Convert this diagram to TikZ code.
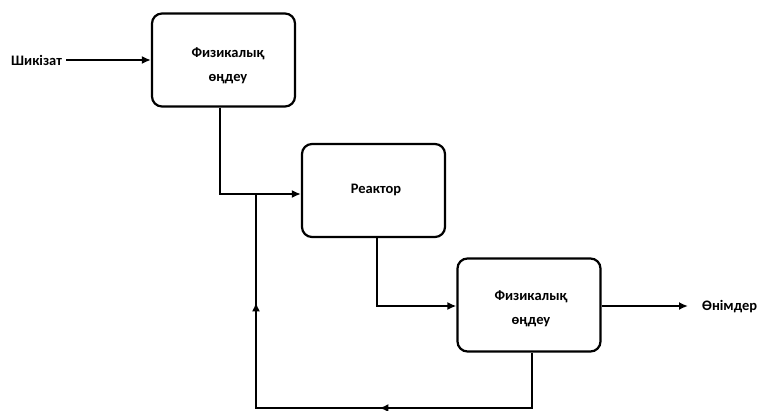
\documentclass[tikz,border=0pt]{standalone}
\usepackage{fontspec}
\setmainfont{Carlito}
\usetikzlibrary{arrows.meta,decorations.markings}
\begin{document}
\begin{tikzpicture}[x=1pt,y=-1pt,
  proc/.style={draw,line width=2.2pt,rounded corners=10pt,minimum width=143pt,minimum height=93pt,inner sep=0pt},
  ptxt/.style={align=center,font=\bfseries\fontsize{14.5}{24}\selectfont,inner sep=0pt},
  lbl/.style={font=\bfseries\fontsize{14.5}{16}\selectfont,inner sep=0pt},
  ln/.style={line width=2pt},
  arr/.style={ln,-{Latex[length=9pt,width=8pt]}},
  midarrows/.style={postaction={decorate},decoration={markings,
     mark=at position 208pt with {\arrow{Latex[length=9pt,width=8pt]}},
     mark=at position 437pt with {\arrow{Latex[length=9pt,width=8pt]}}}}]
\useasboundingbox (0,0) rectangle (760,410);
\node[proc] (b1) at (223.5,60) {};
\node[proc] (b2) at (373.5,190.5) {};
\node[proc] (b3) at (529,305) {};
\node[ptxt] (t1) at (228,66) {Физикалық\\өңдеу};
\node[ptxt] (t2) at (376,190) {Реактор};
\node[ptxt] (t3) at (531,309) {Физикалық\\өңдеу};
\node[lbl,anchor=west] (in) at (11,60) {Шикізат};
\node[lbl,anchor=west] (out) at (702,307) {Өнімдер};
\coordinate (c1) at (220,194);
\coordinate (j) at (256,194);
\coordinate (c2) at (377,306);
\coordinate (fb1) at (532,408);
\coordinate (fb2) at (256,408);
\coordinate (ot) at (688,306);
\draw[arr] (in.east |- 0,60) ++(4,0) -- (b1.west |- 0,60);
\draw[arr] (b1.south -| c1) |- (b2.west |- c1);
\draw[arr] (b2.south -| c2) |- (b3.west |- c2);
\draw[arr] (b3.east |- ot) -- (ot);
\draw[ln,midarrows] (b3.south -| fb1) -- (fb1) -- (fb2) -- (j);
\end{tikzpicture}
\end{document}
